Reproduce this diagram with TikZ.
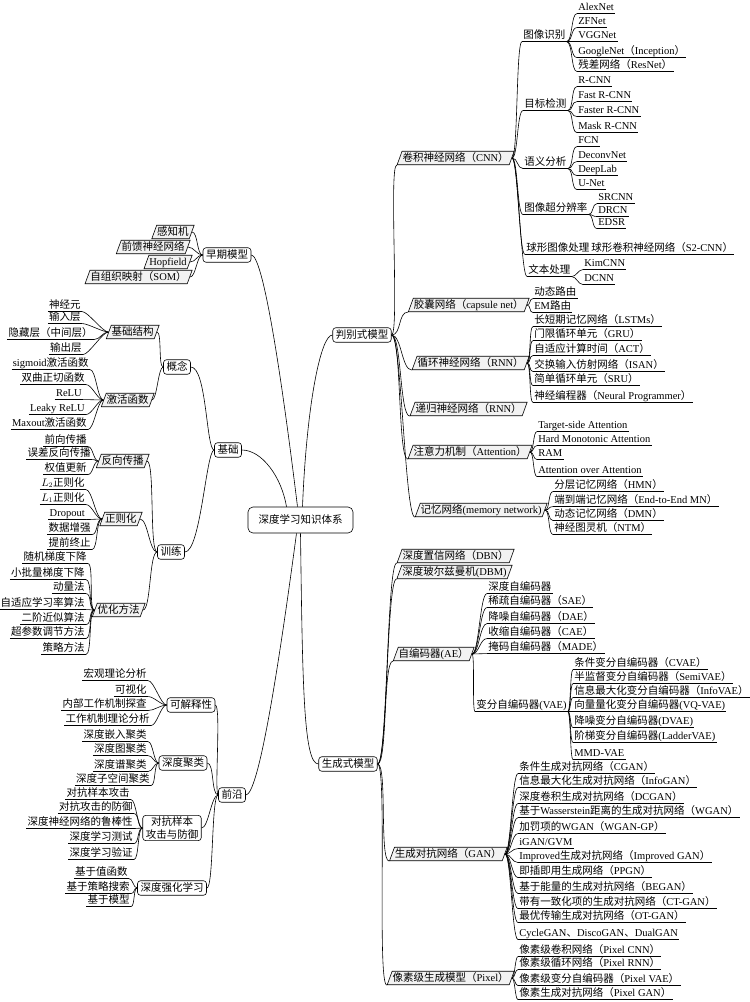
\documentclass[tikz,border=0pt]{standalone}
\usepackage{fontspec}
\usetikzlibrary{shapes.geometric}
\setmainfont{Liberation Serif}
\newfontfamily\cjkfont{Noto Sans CJK SC}
\newfontfamily\latinfont{Liberation Serif}
\XeTeXinterchartokenstate=1
\chardef\cjkclass=3
\count255="3000
\loop\XeTeXcharclass\count255=\cjkclass\advance\count255 by 1\ifnum\count255<"3040 \repeat
\count255="4E00
\loop\XeTeXcharclass\count255=\cjkclass\advance\count255 by 1\ifnum\count255<"A000 \repeat
\count255="FF00
\loop\XeTeXcharclass\count255=\cjkclass\advance\count255 by 1\ifnum\count255<"FFF0 \repeat
\XeTeXinterchartoks 0 \cjkclass = {\cjkfont}
\XeTeXinterchartoks 4095 \cjkclass = {\cjkfont}
\XeTeXinterchartoks \cjkclass 0 = {\latinfont}
\XeTeXinterchartoks \cjkclass 4095 = {\latinfont}

\tikzset{
  txtbase/.style={text height=8.5pt, text depth=2pt, inner xsep=1pt, inner ysep=1pt},
  uline/.style={txtbase, append after command={(\tikzlastnode.south west) edge (\tikzlastnode.south east)}},
  rleaf/.style={uline, anchor=west},
  lleaf/.style={uline, anchor=east},
  para/.style={txtbase, draw, fill=black!5, trapezium, trapezium left angle=70, trapezium right angle=110, inner xsep=0.5pt, inner ysep=1.5pt},
  rbox/.style={txtbase, draw, rounded corners=3pt, inner xsep=3pt, inner ysep=2pt},
  rcurve/.style={to path={.. controls +(#1,0) and +(-#1,0) .. (\tikztotarget)}},
  rcurve/.default=6,
  lcurve/.style={to path={.. controls +(-#1,0) and +(#1,0) .. (\tikztotarget)}},
  lcurve/.default=6,
}
\newcommand\rleaves[5]{\foreach \t/\y [count=\i] in {#5}{\node[rleaf] (#1-\i) at (#3,\y) {\t}; \draw (#2) to[rcurve=#4] (#1-\i.south west);}}
\newcommand\lleaves[4]{\foreach \t/\x/\y [count=\i] in {#4}{\node[lleaf] (#1-\i) at (\x,\y) {\t}; \draw (#2) to[lcurve=#3] (#1-\i.south east);}}

\begin{document}
\begin{tikzpicture}[x=1pt,y=-1pt,line width=0.6pt,font=\fontsize{10.5}{12}\selectfont]
\useasboundingbox (0,0) rectangle (750,1002);
\fill[white] (0,0) rectangle (750,1002);

% root and main branches
\node[rbox, inner xsep=10.5pt, inner ysep=7.75pt, rounded corners=5pt] (root) at (300.5,520) {深度学习知识体系};
\node[rbox] (early) at (227,255) {早期模型};
\node[rbox] (basic) at (228,450) {基础};
\node[rbox] (disc) at (362,335) {判别式模型};
\node[rbox] (gen) at (348,764) {生成式模型};
\node[rbox] (front) at (232,795) {前沿};

\draw ([xshift=-3pt]root.north) .. controls +(-18,-147) and +(11,0) .. (early.east);
\draw ([xshift=-14pt]root.north) .. controls +(-5,-30) and +(20,0) .. (basic.east);
\draw ([xshift=2pt]root.north) .. controls +(4,-100) and +(-12,0) .. (disc.west);
\draw ([xshift=-4pt]root.south) .. controls +(-20,150) and +(12,0) .. (front.east);
\draw ([xshift=0pt]root.south) .. controls +(2,150) and +(-15,0) .. (gen.west);

% left second level
\node[rbox] (concept) at (177,367) {概念};
\node[rbox] (train) at (171,552) {训练};
\node[rbox] (interp) at (191,705) {可解释性};
\node[rbox] (clu) at (183,763) {深度聚类};
\node[draw, rounded corners=3pt, inner xsep=3pt, inner ysep=1.5pt, align=center, font=\fontsize{10.5}{12.5}\selectfont] (adv) at (172,828) {对抗样本\\攻击与防御};
\node[rbox] (drl) at (172,888) {深度强化学习};

\node[para, anchor=east] (perc) at (192,232) {感知机};
\node[para, anchor=east] (ffn) at (188,247) {前馈神经网络};
\node[para, anchor=east] (hop) at (190,262) {Hopfield};
\node[para, anchor=east] (som) at (190,277) {自组织映射（SOM）};
\node[para, anchor=east] (sb) at (157,332) {基础结构};
\node[para, anchor=east] (actf) at (152,400) {激活函数};
\node[para, anchor=east] (bp) at (147,461) {反向传播};
\node[para, anchor=east] (reg) at (140,519) {正则化};
\node[para, anchor=east] (opt) at (143,610) {优化方法};

\foreach \n in {perc,ffn,hop,som} \draw (early.west) to[lcurve=6] (\n.east);
\draw (basic.west) .. controls +(-8,0) and +(16,0) .. (concept.east);
\draw (basic.west) .. controls +(-8,0) and +(16,0) .. (train.east);
\foreach \n in {sb,actf} \draw (concept.west) to[lcurve=5] (\n.east);
\foreach \n in {bp,reg,opt} \draw (train.west) to[lcurve=8] (\n.east);
\draw (front.west) .. controls +(-4,0) and +(6,0) .. (interp.east);
\foreach \n in {clu,adv,drl} \draw (front.west) to[lcurve=7] (\n.east);

\lleaves{sbl}{sb.west}{6}{神经元/82/305, 输入层/82/317, 隐藏层（中间层）/94/333, 输出层/83/348}
\lleaves{actl}{actf.west}{6}{sigmoid激活函数/90/363, 双曲正切函数/86/378, ReLU/83/393, Leaky ReLU/86/408, Maxout激活函数/88/423}
\lleaves{bpl}{bp.west}{5}{前向传播/88/440, 误差反向传播/92/453, 权值更新/88/468}
\lleaves{regl}{reg.west}{6}{$L_2$正则化/86/483, $L_1$正则化/86/498, Dropout/86/513, 数据增强/92/528, 提前终止/92/543}
\lleaves{optl}{opt.west}{6}{随机梯度下降/88/557, 小批量梯度下降/86/573, 动量法/86/587, 自适应学习率算法/86/603, 二阶近似算法/86/618, 超参数调节方法/86/632, 策略方法/86/648}
\lleaves{intl}{interp.west}{6}{宏观理论分析/148/674, 可视化/148/690, 内部工作机制探查/148/704, 工作机制理论分析/151/719}
\lleaves{clul}{clu.west}{5}{深度嵌入聚类/148/735, 深度图聚类/148/749, 深度谱聚类/148/765, 深度子空间聚类/151/779}
\lleaves{advl}{adv.west}{5}{对抗样本攻击/131/793, 对抗攻击的防御/134/807, 深度神经网络的鲁棒性/134/822, 深度学习测试/134/837, 深度学习验证/134/853}
\lleaves{drll}{drl.west}{4}{基于值函数/129/872, 基于策略搜索/131/887, 基于模型/131/900}

% right second level
\node[para, anchor=east] (cnn) at (512,158) {卷积神经网络（CNN）};
\node[para, anchor=east] (caps) at (527,305) {胶囊网络（capsule net）};
\node[para, anchor=east] (rnn) at (527,363) {循环神经网络（RNN）};
\node[para, anchor=east] (recn) at (525,409) {递归神经网络（RNN）};
\node[para, anchor=east] (att) at (530,452) {注意力机制（Attention）};
\node[para, anchor=east] (mem) at (545,510) {记忆网络(memory network)};
\node[para, anchor=east] (dbn) at (512,556) {深度置信网络（DBN）};
\node[para, anchor=east] (dbm) at (510,572) {深度玻尔兹曼机(DBM)};
\node[para, anchor=east] (ae) at (472,654) {自编码器(AE）};
\node[para, anchor=east] (gan) at (505,854) {生成对抗网络（GAN）};
\node[para, anchor=east] (pix) at (512,978) {像素级生成模型（Pixel）};

\draw (disc.east) to[rcurve=8] (cnn.bottom left corner);
\foreach \n in {caps,rnn,recn,att,mem} \draw (disc.east) to[rcurve=10] (\n.bottom left corner);
\foreach \n in {dbn,dbm,ae,gan,pix} \draw (gen.east) to[rcurve=10] (\n.bottom left corner);

% CNN sub-branches
\node[rleaf] (img) at (522,35) {图像识别};
\node[rleaf] (det) at (523,104) {目标检测};
\node[rleaf] (sem) at (523,162) {语义分析};
\node[rleaf] (sr) at (523,208) {图像超分辨率};
\node[rleaf] (sph) at (525,248) {球形图像处理};
\node[rleaf] (sphc) at (590,248) {球形卷积神经网络（S2-CNN）};
\node[rleaf] (txt) at (527,270) {文本处理};
\foreach \n in {img,det,sem,sr,sph,txt} \draw (cnn.east) to[rcurve=6] (\n.south west);
\draw (sph.south east) -- (sphc.south west);

\rleaves{imgl}{img.south east}{577}{6}{AlexNet/7, ZFNet/21, VGGNet/35, GoogleNet（Inception）/51, 残差网络（ResNet）/65}
\rleaves{detl}{det.south east}{577}{6}{R-CNN/80, Fast R-CNN/95, Faster R-CNN/110, Mask R-CNN/126}
\rleaves{seml}{sem.south east}{577}{6}{FCN/140, DeconvNet/155, DeepLab/169, U-Net/183}
\rleaves{srl}{sr.south east}{597}{5}{SRCNN/197, DRCN/210, EDSR/222}
\rleaves{txtl}{txt.south east}{583}{5}{KimCNN/263, DCNN/278}

\rleaves{capl}{caps.east}{533}{4}{动态路由/292, EM路由/306}
\rleaves{rnnl}{rnn.east}{533}{4}{长短期记忆网络（LSTMs）/320, 门限循环单元（GRU）/334, 自适应计算时间（ACT）/349, 交换输入仿射网络（ISAN）/365, 简单循环单元（SRU）/379, 神经编程器（Neural Programmer）/396}
\rleaves{attl}{att.east}{537}{4}{Target-side Attention/425, Hard Monotonic Attention/439, RAM/453, Attention over Attention/470}
\rleaves{meml}{mem.east}{553}{5}{分层记忆网络（HMN）/485, 端到端记忆网络（End-to-End MN）/500, 动态记忆网络（DMN）/514, 神经图灵机（NTM）/528}

\rleaves{ael}{ae.east}{487}{7}{深度自编码器/587, 稀疏自编码器（SAE）/601, 降噪自编码器（DAE）/617, 收缩自编码器（CAE）/632, 掩码自编码器（MADE）/647}
\node[rleaf] (vae) at (475,705) {变分自编码器(VAE)};
\draw (ae.east) to[rcurve=3] (vae.south west);
\rleaves{vael}{vae.south east}{573}{3}{条件变分自编码器（CVAE）/663, 半监督变分自编码器（SemiVAE）/677, 信息最大化变分自编码器（InfoVAE）/691, 向量量化变分自编码器(VQ-VAE)/705, 降噪变分自编码器(DVAE)/721, 阶梯变分自编码器(LadderVAE)/736, MMD-VAE/753}

\rleaves{ganl}{gan.east}{518}{6}{条件生成对抗网络（CGAN）/767, 信息最大化生成对抗网络（InfoGAN）/781, 深度卷积生成对抗网络（DCGAN）/797, 基于Wasserstein距离的生成对抗网络（WGAN）/811, 加罚项的WGAN（WGAN-GP）/827, {iGAN/GVM}/842, Improved生成对抗网络（Improved GAN）/856, 即插即用生成网络（PPGN）/871, 基于能量的生成对抗网络（BEGAN）/887, 带有一致化项的生成对抗网络（CT-GAN）/902, 最优传输生成对抗网络（OT-GAN）/916, CycleGAN、DiscoGAN、DualGAN/933}
\rleaves{pixl}{pix.east}{518}{3}{像素级卷积网络（Pixel CNN）/950, 像素级循环网络（Pixel RNN）/963, 像素级变分自编码器（Pixel VAE）/979, 像素生成对抗网络（Pixel GAN）/993}
\end{tikzpicture}
\end{document}
